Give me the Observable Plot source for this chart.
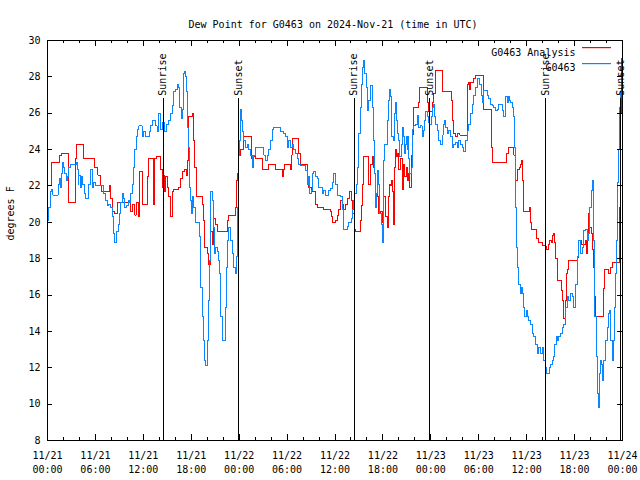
<!DOCTYPE html>
<html>
<head>
<meta charset="utf-8">
<script src="https://cdn.jsdelivr.net/npm/d3@7"></script>
<script src="https://cdn.jsdelivr.net/npm/@observablehq/plot@0.6"></script>
<style>
  body { margin: 0; background: #fff; }
  #chart svg { display: block; }
</style>
</head>
<body>
<div id="chart"></div>
<script>
const title = "Dew Point for G0463 on 2024-Nov-21 (time in UTC)";
const yLabel = "degrees F";
const startTime = "2024-11-21T00:00:00Z";
const endTime = "2024-11-24T00:00:00Z";
const seriesNames = ["G0463 Analysis", "G0463"];
const seriesColors = ["#ff0000", "#0a86ff"];
const yTicks = [8, 10, 12, 14, 16, 18, 20, 22, 24, 26, 28, 30];

// hours since 2024-11-21 00:00 UTC
const analysisHours = [0.0,0.5,1.5,1.75,2.59,3.51,3.67,4.47,5.93,6.3,6.64,6.72,7.76,7.89,8.1,8.43,8.72,10.39,10.69,10.94,11.1,11.35,11.56,11.85,12.48,12.69,13.23,13.44,13.61,14.15,14.36,14.48,14.65,14.78,14.98,15.19,15.4,15.61,15.82,16.45,16.65,16.86,17.15,17.41,17.57,17.7,18.2,18.32,18.45,18.62,19.37,19.49,19.66,19.99,20.2,20.41,20.62,20.83,21.04,21.25,22.5,22.71,23.54,23.67,23.83,23.96,24.17,24.58,25.5,25.75,26.05,26.88,27.71,28.55,28.97,29.47,29.59,29.72,30.43,30.55,30.64,31.47,31.68,32.52,32.72,33.06,33.56,33.77,34.6,35.44,35.56,35.73,36.06,36.27,36.48,36.69,36.9,37.11,37.32,37.52,37.82,38.07,38.23,38.44,38.57,39.19,39.32,39.49,39.61,40.24,40.45,40.65,40.78,40.95,41.07,41.28,41.49,41.7,41.91,42.12,42.32,42.53,42.66,42.82,42.95,43.07,43.16,43.28,43.37,43.45,43.58,43.7,43.87,43.99,44.2,44.41,44.54,44.7,44.95,45.12,45.25,45.37,45.54,45.66,45.79,46.5,46.62,47.54,47.75,48.17,48.38,48.58,49.42,50.55,50.67,50.88,51.09,51.38,51.63,52.63,52.76,52.88,52.97,53.3,53.59,54.55,55.6,55.68,57.48,57.68,58.39,58.6,58.81,59.1,59.23,59.35,59.44,59.65,60.36,60.48,60.61,61.23,61.52,61.94,62.44,62.69,62.86,63.11,63.19,63.4,63.53,63.61,63.82,64.36,64.53,64.65,64.86,64.99,65.07,65.28,66.32,66.45,66.87,67.37,67.49,67.66,67.78,67.91,68.12,68.29,68.41,68.54,68.62,69.58,69.75,70.21,70.54,70.71,71.62,71.75,71.87,72.0];
const analysisDew = [22.0,23.3,23.7,23.8,21.1,23.5,24.3,23.5,23.0,22.6,22.0,21.7,22.0,21.3,20.6,20.5,21.1,20.6,21.0,20.4,21.1,20.3,22.8,21.0,22.5,23.5,21.0,23.5,23.6,22.9,21.9,22.6,21.7,22.5,21.9,21.4,20.3,21.7,21.8,21.9,22.4,22.8,22.9,22.6,23.4,25.8,26.0,24.5,23.0,21.4,21.0,20.1,18.6,18.3,17.7,19.5,18.8,20.2,19.9,19.5,20.1,20.4,20.8,22.3,22.7,23.7,24.0,24.7,23.5,23.6,23.5,22.9,23.2,22.9,22.9,22.5,22.9,23.2,22.9,23.7,24.6,23.8,23.2,22.3,21.9,21.7,21.0,20.8,20.7,20.6,20.3,20.0,20.1,20.4,20.7,21.2,21.0,20.7,21.0,21.3,21.7,21.2,20.5,19.6,19.5,20.1,20.9,22.1,23.6,22.1,23.2,23.6,23.0,22.7,21.6,21.4,20.5,20.6,20.0,21.4,20.3,19.7,21.4,22.1,22.0,22.3,21.7,20.7,19.9,23.0,24.0,23.6,23.8,22.9,23.5,21.8,23.2,22.5,23.0,22.3,22.7,21.9,23.7,24.8,26.3,26.6,27.4,26.6,26.1,26.6,27.1,28.35,27.2,26.7,25.6,24.9,24.7,24.9,24.8,27.6,27.7,27.3,27.7,27.9,28.1,26.2,24.1,23.3,23.8,24.1,23.7,22.3,22.9,23.0,23.2,23.4,22.3,20.6,20.8,20.0,19.6,19.1,18.9,18.7,18.5,18.8,19.0,18.9,19.3,19.4,18.9,18.0,16.8,16.25,15.7,14.7,15.7,17.2,17.4,17.9,18.05,19.0,18.8,19.0,18.3,19.0,20.5,19.7,19.4,18.5,17.5,15.9,14.8,16.35,17.4,17.2,17.5,17.8,20.8,26.0,29.0,28.8];

const observedHours = [0.0,0.17,0.33,0.5,0.67,1.21,1.34,1.5,1.63,1.75,1.92,2.05,2.17,2.34,2.46,2.67,2.88,3.59,3.72,3.84,3.92,4.13,4.26,4.43,4.59,4.76,5.18,5.39,5.59,5.8,6.01,7.05,7.26,7.47,7.68,7.89,8.1,8.31,8.43,8.6,8.85,9.02,9.18,9.35,9.56,9.68,9.85,10.1,10.27,10.44,10.6,10.81,10.94,11.1,11.23,11.44,11.85,12.06,12.27,12.77,12.9,13.11,13.52,13.73,13.86,13.94,14.15,14.36,14.65,14.9,15.19,15.4,15.61,15.82,16.03,16.24,16.45,16.57,16.74,16.86,17.07,17.2,17.28,17.41,17.57,17.7,17.82,17.91,18.03,18.16,18.32,18.53,19.08,19.16,19.37,19.49,19.66,19.79,19.99,20.2,20.33,20.41,20.62,20.74,20.91,21.04,21.25,21.37,21.5,21.66,21.87,22.29,22.41,22.58,22.71,22.92,23.12,23.33,23.5,23.62,23.75,23.88,24.04,24.17,24.29,24.46,24.58,24.79,25.0,25.21,25.42,25.63,25.84,26.05,27.09,27.3,27.51,27.72,27.92,28.13,28.34,29.18,29.59,29.8,30.01,30.22,30.43,30.64,30.85,31.05,31.26,31.47,31.68,32.31,32.52,32.72,32.85,33.06,33.14,33.35,33.56,33.77,33.98,34.39,34.6,34.81,35.23,35.44,35.65,35.85,36.06,36.27,36.69,36.9,37.11,37.52,37.73,38.07,38.23,38.36,38.48,38.65,38.78,38.99,39.19,39.32,39.49,39.61,39.74,39.9,40.03,40.24,40.45,40.74,40.86,40.99,41.07,41.2,41.28,41.49,41.62,41.82,41.91,42.03,42.12,42.24,42.53,42.74,42.87,42.99,43.08,43.28,43.45,43.62,43.74,43.87,43.99,44.12,44.29,44.41,44.54,44.66,44.83,44.95,45.04,45.12,45.25,45.37,45.54,45.66,45.87,46.08,46.29,46.5,46.71,46.92,47.04,47.21,47.37,47.54,47.75,47.88,48.04,48.17,48.29,48.46,48.63,48.79,49.0,49.21,49.42,49.54,49.71,49.84,50.05,50.25,50.46,50.67,50.88,51.09,51.3,51.51,51.72,51.92,52.13,52.34,52.55,52.76,52.97,53.18,53.38,53.59,53.8,54.14,54.3,54.43,54.64,55.05,55.26,55.47,55.68,55.89,56.1,56.31,56.52,56.93,57.14,57.35,57.56,57.68,57.85,58.02,58.18,58.35,58.44,58.6,58.73,58.85,59.02,59.23,59.35,59.52,59.65,59.77,59.94,60.06,60.27,60.48,60.69,60.9,61.11,61.32,61.52,61.73,61.94,62.15,62.36,62.53,62.86,63.03,63.19,63.4,63.53,63.69,63.86,64.03,64.24,64.45,64.65,64.86,65.07,65.28,65.49,65.7,65.91,66.12,66.32,66.53,66.74,66.95,67.16,67.37,67.58,67.78,67.91,68.08,68.2,68.33,68.41,68.54,68.7,68.83,68.95,69.12,69.25,69.37,69.5,69.66,69.87,70.08,70.29,70.41,70.54,70.71,70.83,70.96,71.12,71.25,71.42,71.54,71.67,71.79,71.96];
const observedDew = [20.1,20.8,21.7,21.8,21.5,21.5,22.1,22.4,21.9,22.7,23.3,23.0,22.7,22.3,22.5,23.0,23.2,23.3,22.9,22.1,22.6,21.9,22.5,22.1,21.6,21.3,22.1,22.9,21.9,22.2,22.0,21.6,21.2,20.9,21.0,20.8,20.3,19.4,18.9,19.5,19.9,20.5,21.1,21.6,21.3,20.8,20.9,21.2,21.1,21.6,22.1,23.0,24.0,24.7,25.1,25.3,24.7,25.0,24.7,25.0,25.3,25.6,25.3,25.0,25.6,26.0,25.1,25.5,25.0,25.4,25.6,26.0,26.4,27.2,27.3,27.6,27.4,26.3,25.7,26.2,28.2,28.3,28.0,27.2,25.2,24.1,21.9,21.2,20.5,21.4,20.8,20.0,19.2,16.4,14.8,13.5,12.4,12.1,13.5,15.7,17.9,21.7,21.2,19.7,18.3,18.6,18.4,17.9,17.2,14.8,13.5,15.3,17.5,19.0,19.7,19.0,18.3,17.5,17.2,18.1,20.8,23.7,24.5,26.2,25.6,25.0,24.5,24.1,24.3,24.0,23.7,23.0,23.7,24.1,23.7,23.4,23.7,24.0,24.5,25.1,25.2,25.0,24.9,24.7,24.1,24.5,24.1,24.3,24.0,23.8,23.5,23.2,23.1,22.85,22.1,22.5,21.6,21.75,22.7,22.8,22.5,22.4,21.9,21.6,21.75,21.5,21.75,21.85,22.2,22.7,22.1,21.5,21.4,20.7,19.6,19.75,20.0,20.2,20.7,21.2,21.6,22.1,23.0,24.9,26.3,27.6,28.5,28.9,28.2,27.4,26.15,26.7,27.5,26.3,24.5,22.7,20.8,21.6,22.85,22.1,20.5,19.9,18.9,21.75,23.4,24.3,25.6,26.7,27.3,26.9,24.7,24.5,26.0,26.6,25.6,24.9,24.5,23.6,24.3,25.2,24.7,23.8,24.3,24.7,24.0,24.7,23.5,22.7,23.0,25.1,25.3,25.4,25.9,25.2,25.3,24.7,25.05,25.6,26.1,25.8,25.5,25.4,25.8,26.3,26.5,25.8,25.4,25.05,24.5,24.3,24.8,25.4,25.6,25.2,24.9,25.05,24.7,24.1,24.3,24.4,24.1,24.5,24.3,24.1,23.9,24.5,25.05,25.4,26.0,26.5,27.0,27.4,27.9,27.6,27.0,26.6,27.25,27.0,26.8,26.5,26.4,26.3,26.15,26.2,26.5,26.15,25.8,26.9,26.6,26.9,26.7,26.6,26.3,25.8,24.1,20.8,18.6,17.5,16.6,16.1,16.4,16.1,15.3,14.8,15.15,14.8,14.6,14.4,13.9,13.7,13.3,12.8,13.1,12.8,13.1,12.4,12.0,11.7,12.0,12.2,12.4,12.6,13.3,13.7,13.5,13.7,13.9,14.2,14.4,15.3,15.9,15.7,16.1,15.9,15.3,16.6,18.1,19.0,18.3,18.6,19.55,19.6,19.0,19.4,20.8,21.75,22.3,21.0,19.0,14.8,12.6,10.6,9.8,11.7,12.4,12.2,11.3,12.4,13.5,14.2,15.0,15.15,13.5,12.4,13.5,15.3,17.2,19.0,22.2,24.0,26.3,27.2,27.0];

const sunEventHours = [14.47, 23.93, 38.38, 47.88, 62.38, 71.8];
const sunEventLabels = ["Sunrise", "Sunset", "Sunrise", "Sunset", "Sunrise", "Sunset"];
const sunLineTop = 26.8;

// ---- build tables ----
const t0 = new Date(startTime);
const t1 = new Date(endTime);
const atHour = h => new Date(+t0 + h * 3600e3);
const analysis = analysisHours.map((h, i) => ({time: atHour(h), dew: analysisDew[i]}));
const observed = observedHours.map((h, i) => ({time: atHour(h), dew: observedDew[i]}));
const sunEvents = sunEventHours.map((h, i) => ({time: atHour(h), label: sunEventLabels[i]}));
const majorX = d3.utcHour.every(6).range(t0, new Date(+t1 + 1));
const minorX = d3.utcHour.every(2).range(t0, t1).filter(d => d.getUTCHours() % 6 !== 0);
const fmt = d3.utcFormat("%m/%d\n%H:%M");

const W = 640, H = 480, mL = 47, mR = 18, mT = 40, mB = 40;
const fw = W - mL - mR, fh = H - mT - mB;

const chart = Plot.plot({
  width: W, height: H,
  marginLeft: mL, marginRight: mR, marginTop: mT, marginBottom: mB,
  style: {fontFamily: "'DejaVu Sans Mono', monospace", fontSize: "10px", color: "#000", background: "#fff", overflow: "visible"},
  x: {type: "utc", domain: [t0, t1]},
  y: {domain: [8, 30]},
  marks: [
    Plot.line(analysis, {x: "time", y: "dew", stroke: seriesColors[0], strokeWidth: 1, curve: "step-after", shapeRendering: "crispEdges"}),
    Plot.line(observed, {x: "time", y: "dew", stroke: seriesColors[1], strokeWidth: 1, curve: "step-after", shapeRendering: "crispEdges"}),
    Plot.ruleX(sunEvents, {x: "time", y1: 8, y2: sunLineTop, stroke: "#000", strokeWidth: 1, shapeRendering: "crispEdges"}),
    Plot.text(sunEvents, {x: "time", y: sunLineTop, text: "label", rotate: -90, textAnchor: "start", dy: -3, fill: "#000"}),
    // ticks (inward, mirrored)
    Plot.tickX(majorX, {x: d => d, insetTop: fh - 6, stroke: "#000", shapeRendering: "crispEdges"}),
    Plot.tickX(majorX, {x: d => d, insetBottom: fh - 6, stroke: "#000", shapeRendering: "crispEdges"}),
    Plot.tickX(minorX, {x: d => d, insetTop: fh - 3, stroke: "#000", shapeRendering: "crispEdges"}),
    Plot.tickX(minorX, {x: d => d, insetBottom: fh - 3, stroke: "#000", shapeRendering: "crispEdges"}),
    Plot.tickY(yTicks, {y: d => d, insetRight: fw - 5, stroke: "#000", shapeRendering: "crispEdges"}),
    Plot.tickY(yTicks, {y: d => d, insetLeft: fw - 5, stroke: "#000", shapeRendering: "crispEdges"}),
    Plot.frame({stroke: "#000", strokeWidth: 1, shapeRendering: "crispEdges"}),
    // axis labels
    Plot.axisX(majorX, {anchor: "bottom", tickSize: 0, tickPadding: 9, tickFormat: fmt, lineHeight: 1.4, label: null, fill: "#000"}),
    Plot.axisY(yTicks, {anchor: "left", tickSize: 0, tickPadding: 7, label: null, fill: "#000"}),
    // title and y label
    Plot.text([title], {frameAnchor: "top", dy: -20, dx: -2, fill: "#000"}),
    Plot.text([yLabel], {frameAnchor: "left", dx: -37, rotate: -90, fill: "#000"}),
    // legend text
    Plot.text([seriesNames[0]], {frameAnchor: "top-right", dx: -47, dy: 8, textAnchor: "end", fill: "#000"}),
    Plot.text([seriesNames[1]], {frameAnchor: "top-right", dx: -47, dy: 23, textAnchor: "end", fill: "#000"})
  ]
});

// legend swatches (drawn next to the legend text)
const svg = d3.select(chart);
seriesColors.forEach((c, i) => {
  const yy = mT + 7 + i * 16;
  svg.append("rect")
    .attr("x", W - mR - 40).attr("width", 29)
    .attr("y", yy).attr("height", 1.2)
    .attr("fill", c);
});
document.getElementById("chart").appendChild(chart);
</script>
</body>
</html>
